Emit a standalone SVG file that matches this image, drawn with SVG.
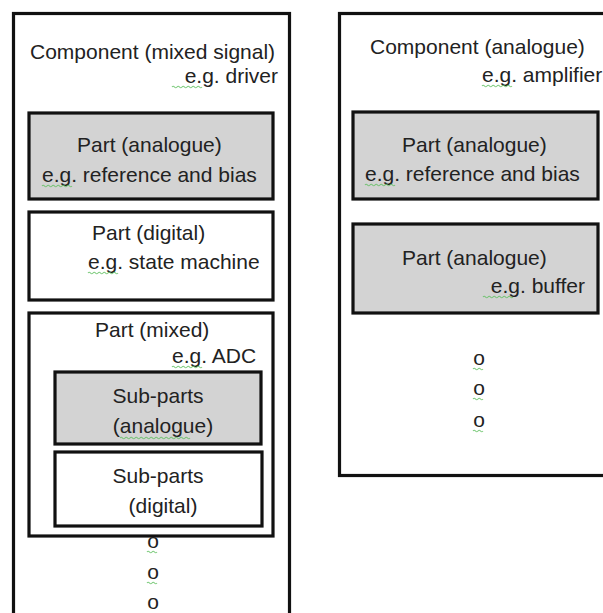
<svg xmlns="http://www.w3.org/2000/svg" xmlns:xlink="http://www.w3.org/1999/xlink" width="603" height="613" viewBox="0 0 603 613">
  <style>
    .box { fill: #ffffff; stroke: #111111; stroke-width: 3.2; }
    .ana { fill: #d3d3d3; stroke: #111111; stroke-width: 3.2; }
    text { font-family: "Liberation Sans", Arial, sans-serif; font-size: 21px; fill: #222222; }
    .sq { fill: none; stroke: #5fbf5f; stroke-width: 1.1; opacity: 0.8; }
  </style>
  <defs>
    <!-- spell-check style wavy underline, 30px wide -->
    <path id="wave" class="sq" d="M0 0 q1.25 -1.5 2.5 0 t2.5 0 t2.5 0 t2.5 0 t2.5 0 t2.5 0 t2.5 0 t2.5 0 t2.5 0 t2.5 0 t2.5 0 t2.5 0"/>
    <path id="wave-s" class="sq" d="M0 0 q1.25 -1.5 2.5 0 t2.5 0 t2.5 0 t2.5 0"/>
  </defs>
  <rect width="603" height="613" fill="#ffffff"/>

  <!-- Mixed-signal component -->
  <g id="component-mixed">
    <rect class="box" x="13.5" y="13.5" width="276" height="640"/>
    <text x="30" y="59">Component (mixed signal)</text>
    <text x="278" y="83" text-anchor="end">e.g. driver</text>
    <use xlink:href="#wave" x="172" y="87"/>
  </g>

  <g id="part-analogue-1">
    <rect class="ana" x="29" y="113" width="244" height="86"/>
    <text x="77" y="152">Part (analogue)</text>
    <text x="42" y="182">e.g. reference and bias</text>
    <use xlink:href="#wave" x="42" y="186"/>
  </g>

  <g id="part-digital">
    <rect class="box" x="29" y="212" width="244" height="88"/>
    <text x="92" y="240">Part (digital)</text>
    <text x="88" y="269">e.g. state machine</text>
    <use xlink:href="#wave" x="88" y="273"/>
  </g>

  <g id="part-mixed">
    <rect class="box" x="29" y="313" width="244" height="223"/>
    <text x="95" y="337">Part (mixed)</text>
    <text x="172" y="363">e.g. ADC</text>
    <use xlink:href="#wave" x="172" y="367"/>
  </g>

  <g id="subparts-analogue">
    <rect class="ana" x="55" y="372" width="206" height="72"/>
    <text x="158" y="403" text-anchor="middle">Sub-parts</text>
    <text x="163" y="433" text-anchor="middle">(analogue)</text>
    <use xlink:href="#wave" x="120" y="438"/>
    <use xlink:href="#wave" x="150" y="438"/>
    <use xlink:href="#wave-s" x="180" y="438"/>
  </g>

  <g id="subparts-digital">
    <rect class="box" x="55" y="452" width="207" height="74"/>
    <text x="158" y="483" text-anchor="middle">Sub-parts</text>
    <text x="163" y="513" text-anchor="middle">(digital)</text>
  </g>

  <g id="ellipsis-left">
    <text x="153" y="548" text-anchor="middle">o</text>
    <text x="153" y="579" text-anchor="middle">o</text>
    <text x="153" y="609" text-anchor="middle">o</text>
    <use xlink:href="#wave-s" x="147" y="552"/>
    <use xlink:href="#wave-s" x="147" y="583"/>
  </g>

  <!-- Analogue component -->
  <g id="component-analogue">
    <rect class="box" x="339.5" y="13.5" width="300" height="462"/>
    <text x="370" y="54">Component (analogue)</text>
    <text x="482" y="82">e.g. amplifier</text>
    <use xlink:href="#wave" x="482" y="86"/>
  </g>

  <g id="part-analogue-2">
    <rect class="ana" x="353" y="112" width="245" height="87"/>
    <text x="402" y="152">Part (analogue)</text>
    <text x="365" y="181">e.g. reference and bias</text>
    <use xlink:href="#wave" x="365" y="185"/>
  </g>

  <g id="part-analogue-3">
    <rect class="ana" x="353" y="224" width="245" height="89"/>
    <text x="402" y="265">Part (analogue)</text>
    <text x="585" y="293" text-anchor="end">e.g. buffer</text>
    <use xlink:href="#wave" x="483" y="297"/>
  </g>

  <g id="ellipsis-right">
    <text x="479" y="365" text-anchor="middle">o</text>
    <text x="479" y="395" text-anchor="middle">o</text>
    <text x="479" y="427" text-anchor="middle">o</text>
    <use xlink:href="#wave-s" x="473" y="369"/>
    <use xlink:href="#wave-s" x="473" y="399"/>
    <use xlink:href="#wave-s" x="473" y="431"/>
  </g>

  <!-- no connectors in this diagram -->
  <g id="connectors"/>
</svg>
